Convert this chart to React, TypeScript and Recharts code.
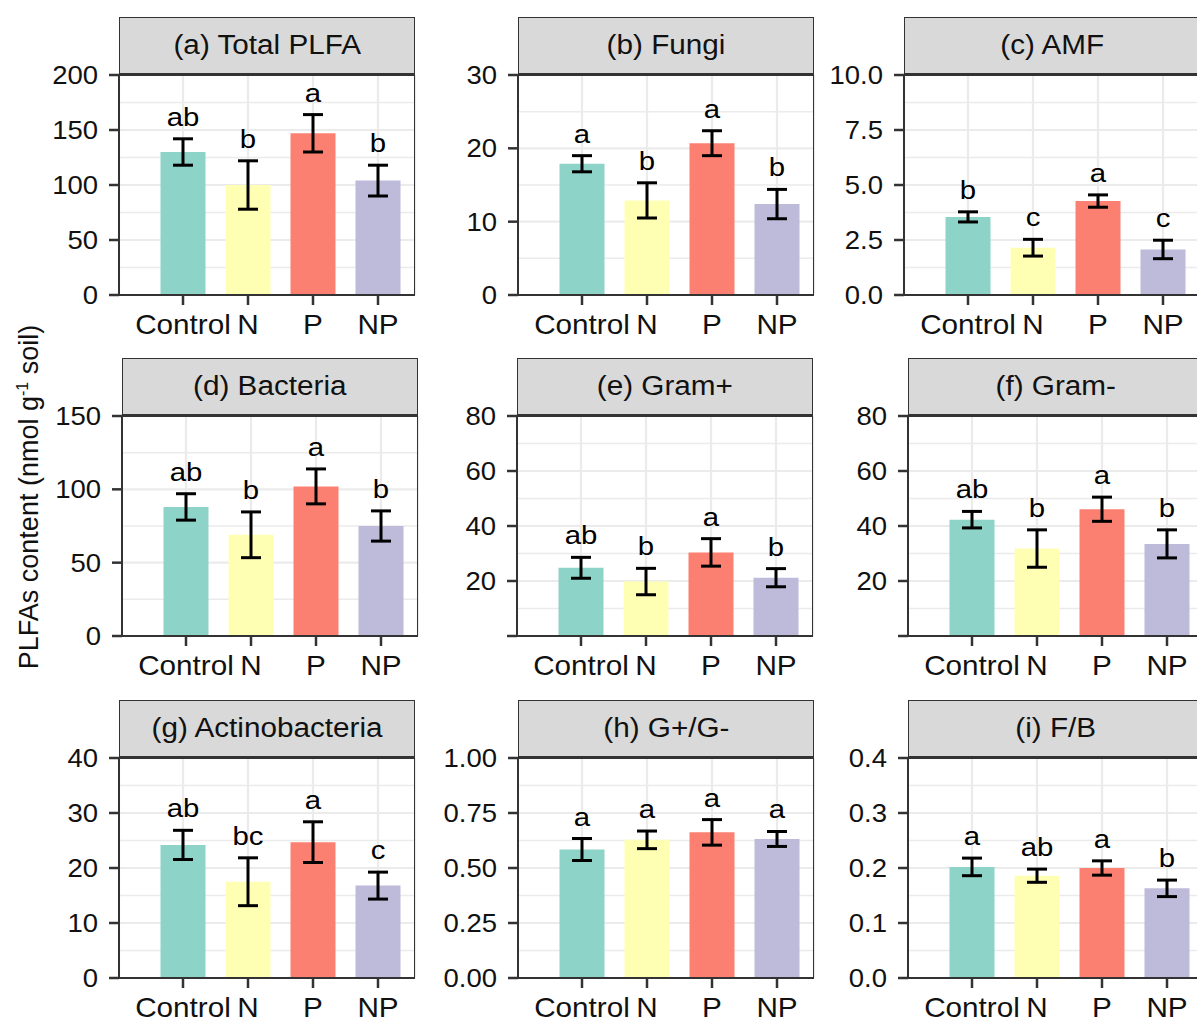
import React from "react";
import {
  Bar,
  BarChart,
  CartesianGrid,
  Cell,
  ErrorBar,
  LabelList,
  ReferenceLine,
  XAxis,
  YAxis,
} from "recharts";

// treatments and Set3-like fills
const categories = ["Control", "N", "P", "NP"];
const COLORS = ["#8DD3C7", "#FFFFB3", "#FB8072", "#BEBADA"];

// (a) Total PLFA
const totalMean = [130, 100, 147, 104];
const totalErr = [12, 22, 17, 14];
const totalLetters = ["ab", "b", "a", "b"];
const totalTicks = [0, 50, 100, 150, 200];
const totalTickLabels = ["0", "50", "100", "150", "200"];

// (b) Fungi
const fungiMean = [17.9, 12.9, 20.7, 12.4];
const fungiErr = [1.1, 2.4, 1.7, 2.0];
const fungiLetters = ["a", "b", "a", "b"];
const fungiTicks = [0, 10, 20, 30];
const fungiTickLabels = ["0", "10", "20", "30"];

// (c) AMF
const amfMean = [3.55, 2.15, 4.27, 2.07];
const amfErr = [0.23, 0.38, 0.28, 0.42];
const amfLetters = ["b", "c", "a", "c"];
const amfTicks = [0, 2.5, 5, 7.5, 10];
const amfTickLabels = ["0.0", "2.5", "5.0", "7.5", "10.0"];

// (d) Bacteria
const bactMean = [88, 69, 102, 75];
const bactErr = [9, 15.6, 11.9, 10.3];
const bactLetters = ["ab", "b", "a", "b"];
const bactTicks = [0, 50, 100, 150];
const bactTickLabels = ["0", "50", "100", "150"];

// (e) Gram+
const gposMean = [24.8, 19.8, 30.4, 21.2];
const gposErr = [3.8, 4.8, 5.0, 3.3];
const gposLetters = ["ab", "b", "a", "b"];
const gposTicks = [0, 20, 40, 60, 80];
const gposTickLabels = ["", "20", "40", "60", "80"];

// (f) Gram-
const gnegMean = [42.3, 31.8, 46.1, 33.5];
const gnegErr = [3.0, 6.8, 4.4, 5.1];
const gnegLetters = ["ab", "b", "a", "b"];
const gnegTicks = [0, 20, 40, 60, 80];
const gnegTickLabels = ["", "20", "40", "60", "80"];

// (g) Actinobacteria
const actMean = [24.2, 17.5, 24.7, 16.8];
const actErr = [2.65, 4.35, 3.7, 2.45];
const actLetters = ["ab", "bc", "a", "c"];
const actTicks = [0, 10, 20, 30, 40];
const actTickLabels = ["0", "10", "20", "30", "40"];

// (h) G+/G-
const gRatioMean = [0.584, 0.628, 0.662, 0.632];
const gRatioErr = [0.05, 0.04, 0.058, 0.034];
const gRatioLetters = ["a", "a", "a", "a"];
const gRatioTicks = [0, 0.25, 0.5, 0.75, 1];
const gRatioTickLabels = ["0.00", "0.25", "0.50", "0.75", "1.00"];

// (i) F/B
const fbMean = [0.202, 0.186, 0.2, 0.163];
const fbErr = [0.016, 0.012, 0.013, 0.015];
const fbLetters = ["a", "ab", "a", "b"];
const fbTicks = [0, 0.1, 0.2, 0.3, 0.4];
const fbTickLabels = ["0.0", "0.1", "0.2", "0.3", "0.4"];

const panels = [
  { title: "(a) Total PLFA", mean: totalMean, err: totalErr, letters: totalLetters, ticks: totalTicks, tickLabels: totalTickLabels },
  { title: "(b) Fungi", mean: fungiMean, err: fungiErr, letters: fungiLetters, ticks: fungiTicks, tickLabels: fungiTickLabels },
  { title: "(c) AMF", mean: amfMean, err: amfErr, letters: amfLetters, ticks: amfTicks, tickLabels: amfTickLabels },
  { title: "(d) Bacteria", mean: bactMean, err: bactErr, letters: bactLetters, ticks: bactTicks, tickLabels: bactTickLabels },
  { title: "(e) Gram+", mean: gposMean, err: gposErr, letters: gposLetters, ticks: gposTicks, tickLabels: gposTickLabels },
  { title: "(f) Gram-", mean: gnegMean, err: gnegErr, letters: gnegLetters, ticks: gnegTicks, tickLabels: gnegTickLabels },
  { title: "(g) Actinobacteria", mean: actMean, err: actErr, letters: actLetters, ticks: actTicks, tickLabels: actTickLabels },
  { title: "(h) G+/G-", mean: gRatioMean, err: gRatioErr, letters: gRatioLetters, ticks: gRatioTicks, tickLabels: gRatioTickLabels },
  { title: "(i) F/B", mean: fbMean, err: fbErr, letters: fbLetters, ticks: fbTicks, tickLabels: fbTickLabels },
];

// layout (page pixels)
const PLOT_TOPS = [75, 416, 758];
const PLOT_LEFTS = [
  [119, 518, 904],
  [122, 517, 908],
  [119, 518, 908],
];
const PLOT_W = 296;
const PLOT_H = 220;
const STRIP_H = 58;
const Y_AXIS_W = 110;
const TOP_PAD = 20;
const X_AXIS_H = 52;
const SX = 1.1;
const FONT = '"Liberation Sans", Arial, Helvetica, sans-serif';
const INK = "#111";
const FRAME = "#333";

type PanelCfg = (typeof panels)[number];

function Panel({ cfg, left, top }: { cfg: PanelCfg; left: number; top: number }) {
  const data = categories.map((name, i) => ({
    name,
    mean: cfg.mean[i],
    err: cfg.err[i],
    letter: cfg.letters[i],
  }));
  const ticks = cfg.ticks;
  const minor = ticks.slice(1).map((t, i) => (t + ticks[i]) / 2);

  const yTick = (props: any) => {
    const { x, y, payload } = props;
    const idx = ticks.indexOf(payload.value);
    const label = idx >= 0 ? cfg.tickLabels[idx] : String(payload.value);
    return (
      <text
        transform={`translate(${x},${y}) scale(${SX},1)`}
        textAnchor="end"
        dy="0.355em"
        fontSize={25}
        fontFamily={FONT}
        fill={INK}
      >
        {label}
      </text>
    );
  };

  const xTick = (props: any) => {
    const { x, y, payload } = props;
    return (
      <text
        transform={`translate(${x},${y}) scale(${SX},1)`}
        textAnchor="middle"
        dy="0.71em"
        fontSize={27}
        fontFamily={FONT}
        fill={INK}
      >
        {payload.value}
      </text>
    );
  };

  const letter = (props: any) => {
    const vb = props.viewBox ?? props;
    const x = Number(vb.x ?? props.x);
    const y = Number(vb.y ?? props.y);
    const w = Number(vb.width ?? props.width);
    const h = Number(vb.height ?? props.height);
    const i = props.index ?? cfg.letters.indexOf(props.value);
    const pxPerUnit = h / cfg.mean[i];
    const errTop = y - cfg.err[i] * pxPerUnit;
    return (
      <text
        transform={`translate(${x + w / 2},${errTop - 13}) scale(1.13,1)`}
        textAnchor="middle"
        fontSize={26}
        fontFamily={FONT}
        fill="#000"
      >
        {props.value}
      </text>
    );
  };

  return (
    <>
      <div style={{ position: "absolute", left: left - Y_AXIS_W, top: top - TOP_PAD }}>
        <BarChart
          width={Y_AXIS_W + PLOT_W + 4}
          height={TOP_PAD + PLOT_H + X_AXIS_H}
          data={data}
          margin={{ top: TOP_PAD, right: 4, bottom: 0, left: 0 }}
          barSize={45}
          style={{ overflow: "visible" }}
        >
          <CartesianGrid stroke="#EBEBEB" strokeWidth={2.2} />
          {minor.map((v) => (
            <ReferenceLine key={v} y={v} stroke="#EBEBEB" strokeWidth={1.5} zIndex={-90} />
          ))}
          <XAxis
            dataKey="name"
            padding={{ left: 31.5, right: 4.5 }}
            height={X_AXIS_H}
            axisLine={false}
            tickLine={{ stroke: FRAME, strokeWidth: 2.5 }}
            tickSize={10}
            tickMargin={10}
            tick={xTick}
            interval={0}
          />
          <YAxis
            type="number"
            domain={[ticks[0], ticks[ticks.length - 1]]}
            ticks={ticks}
            width={Y_AXIS_W}
            axisLine={false}
            tickLine={{ stroke: FRAME, strokeWidth: 2.5 }}
            tickSize={10}
            tickMargin={11}
            tick={yTick}
            interval={0}
            allowDataOverflow
          />
          <Bar dataKey="mean" isAnimationActive={false}>
            {data.map((d, i) => (
              <Cell key={d.name} fill={COLORS[i]} />
            ))}
            <ErrorBar dataKey="err" width={10} strokeWidth={3} stroke="#000" isAnimationActive={false} />
            <LabelList dataKey="letter" content={letter} />
          </Bar>
        </BarChart>
      </div>
      {/* facet strip */}
      <div
        style={{
          position: "absolute",
          left,
          top: top - STRIP_H,
          width: PLOT_W,
          height: STRIP_H + 1,
          boxSizing: "border-box",
          background: "#D9D9D9",
          border: `1.5px solid ${FRAME}`,
          borderBottom: `3px solid ${FRAME}`,
          display: "flex",
          alignItems: "center",
          justifyContent: "center",
        }}
      >
        <span
          style={{
            display: "inline-block",
            transform: `scaleX(${SX})`,
            fontSize: 27,
            color: INK,
            whiteSpace: "nowrap",
          }}
        >
          {cfg.title}
        </span>
      </div>
      {/* panel frame */}
      <div
        style={{
          position: "absolute",
          left: left - 1,
          top: top,
          width: PLOT_W + 1,
          height: PLOT_H + 1,
          boxSizing: "border-box",
          borderLeft: `2px solid ${FRAME}`,
          borderBottom: `2px solid ${FRAME}`,
          borderRight: `1.5px solid ${FRAME}`,
          pointerEvents: "none",
        }}
      />
    </>
  );
}

export default function App() {
  return (
    <div
      style={{
        position: "absolute",
        left: 0,
        top: 0,
        width: 1197,
        height: 1021,
        overflow: "hidden",
        background: "#fff",
        fontFamily: FONT,
      }}
    >
      {panels.map((cfg, k) => {
        const r = Math.floor(k / 3);
        const c = k % 3;
        return <Panel key={cfg.title} cfg={cfg} left={PLOT_LEFTS[r][c]} top={PLOT_TOPS[r]} />;
      })}
      <div
        style={{
          position: "absolute",
          left: 29 - 250,
          top: 497 - 20,
          width: 500,
          height: 40,
          lineHeight: "40px",
          textAlign: "center",
          fontSize: 27,
          color: INK,
          whiteSpace: "nowrap",
          transform: "rotate(-90deg)",
        }}
      >
        PLFAs content (nmol g<sup style={{ fontSize: 16, verticalAlign: 0, position: "relative", top: -10 }}>-1</sup> soil)
      </div>
    </div>
  );
}
